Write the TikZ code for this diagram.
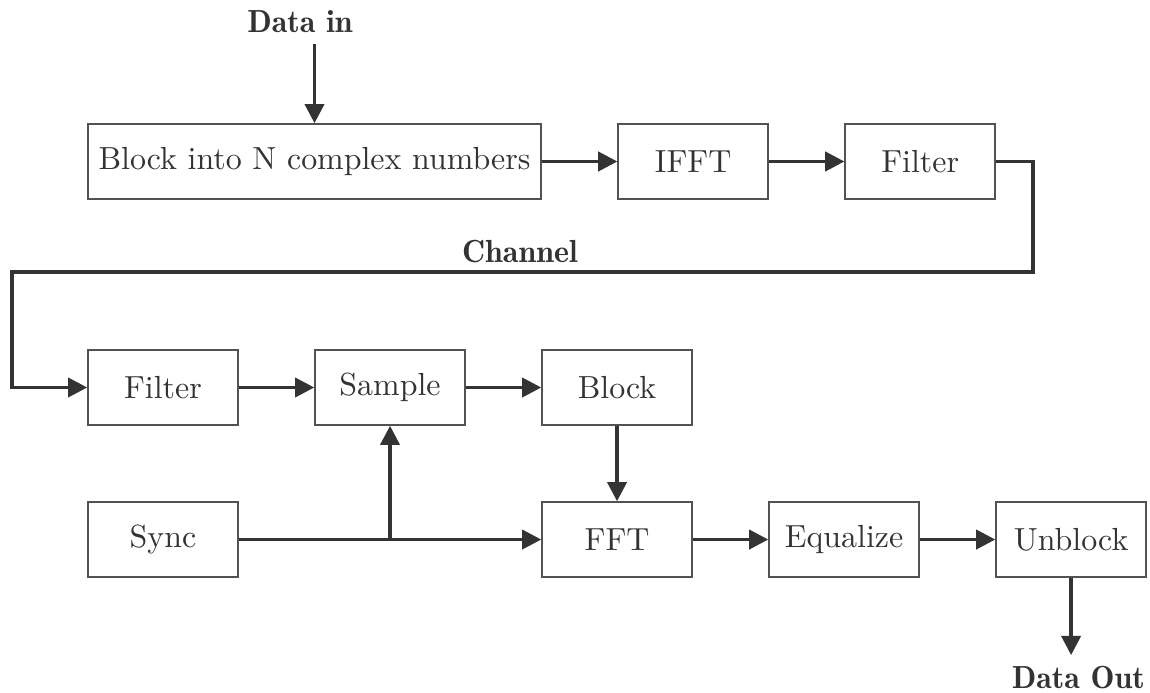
\documentclass[tikz,border=0pt]{standalone}
\usepackage{tikz}
\usetikzlibrary{positioning, arrows.meta}
\definecolor{ink}{HTML}{333333}
\tikzset{
    stage/.style={
        rectangle,
        minimum width=1.65cm,
        minimum height=0.825cm,
        draw=ink!85,
        line width=0.5pt,
        text=ink
    },
    label/.style={font=\fontseries{b}\selectfont, text=ink},
    arrow/.style={line width=1.1pt, draw=ink, -{Triangle[length=6pt,width=6pt]}},
    wire/.style={line width=1.1pt, draw=ink}
}

\begin{document}
\begin{tikzpicture}[x=0.011cm, y=0.011cm, node distance=0.83cm]

\useasboundingbox (0,0) rectangle (1150,-693);

% transmitter row
\node (blockin) [stage, minimum width=4.98cm] at (314.5,-161.5)
{Block into N complex numbers};
\node (ifft) [stage, right=of blockin] {IFFT};
\node (filtA) [stage, right=of ifft] {Filter};

% receiver rows
\node (filtB) [stage] at (163,-387.5) {Filter};
\node (sample) [stage, right=of filtB] {Sample};
\node (block) [stage, right=of sample] {Block};
\node (sync) [stage, below=of filtB] {Sync};
\node (fft) [stage, below=of block] {FFT};
\node (equal) [stage, right=of fft] {Equalize};
\node (unblock) [stage, right=of equal] {Unblock};

% labels
\node (din) [label] at (300,-22) {Data in};
\node (chan) [label] at (520,-252) {Channel};
\node (dout) [label, below=0.85cm of unblock, xshift=0.08cm] {Data Out};

\coordinate (turnR) at (1033,-272);
\coordinate (turnL) at (12,-272);
\coordinate (split) at (sample.south |- sync.east);

\draw [arrow] (din.south -| blockin) -- (blockin.north);
\draw [arrow] (blockin) -- (ifft);
\draw [arrow] (ifft) -- (filtA);
\draw [arrow] (filtA.east) -| (turnR) -- (turnL) |- (filtB.west);
\draw [arrow] (filtB) -- (sample);
\draw [arrow] (sample) -- (block);
\draw [arrow] (block) -- (fft);
\draw [arrow] (sync) -- (fft);
\draw [arrow] (split) -- (sample.south);
\draw [arrow] (fft) -- (equal);
\draw [arrow] (equal) -- (unblock);
\draw [arrow] (unblock) -- (unblock.south |- dout.north);

\end{tikzpicture}
\end{document}
